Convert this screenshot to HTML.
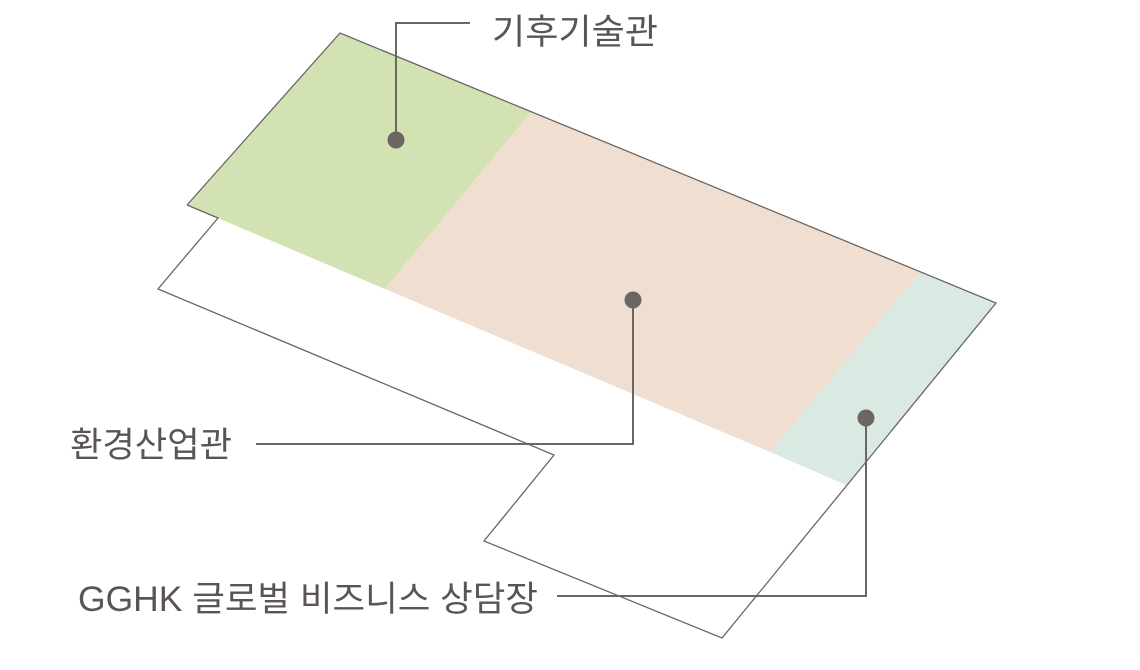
<!DOCTYPE html>
<html><head><meta charset="utf-8"><style>
html,body{margin:0;padding:0;background:#fff;width:1140px;height:670px;overflow:hidden}
svg{display:block}
text{font-family:"Liberation Sans","Noto Sans CJK KR",sans-serif;fill:#5a5552;font-size:35px}
</style></head><body>
<svg width="1140" height="670" viewBox="0 0 1140 670">
<polygon points="340,33 531,112 385,289 187,205" fill="#d3e2b3"/>
<polygon points="531,112 920,272 770,452 385,289" fill="#f0dfd1"/>
<polygon points="920,272 996,303 846,485 770,452" fill="#dbe9e3"/>
<polyline points="187,205 340,33 996,303 722,638 484,541 554,455 158,289 218,218 187,205" fill="none" stroke="#6a6663" stroke-width="1.3"/>
<g stroke="#6a6663" stroke-width="2" fill="none">
<polyline points="396,140 396,23 470,23"/>
<polyline points="633,300 633,444 256,444"/>
<polyline points="866,418 866,596 557,596"/>
</g>
<g fill="#6a6663">
<circle cx="396" cy="140" r="8.5"/>
<circle cx="633" cy="300" r="8.5"/>
<circle cx="866" cy="418" r="8.5"/>
</g>
<text x="492" y="44" textLength="166" lengthAdjust="spacingAndGlyphs">기후기술관</text>
<text x="70" y="457" textLength="162" lengthAdjust="spacingAndGlyphs">환경산업관</text>
<text x="78" y="611" textLength="460" lengthAdjust="spacingAndGlyphs">GGHK 글로벌 비즈니스 상담장</text>
</svg>
</body></html>
